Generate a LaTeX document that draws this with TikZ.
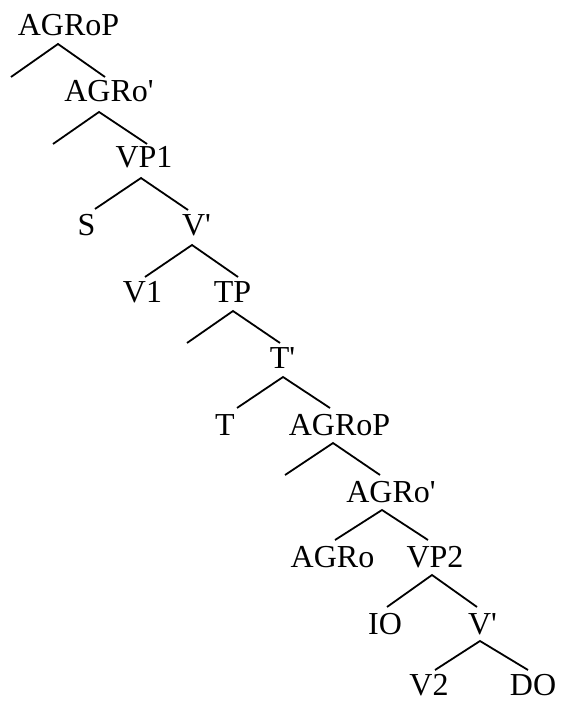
\documentclass[tikz,border=0pt]{standalone}
\usepackage{fontspec}
\setmainfont{Liberation Serif}
\newcommand{\pr}{\textquotesingle}
\begin{document}
\begin{tikzpicture}[x=1pt,y=-1pt,
  lab/.style={anchor=base,inner sep=0pt,font=\fontsize{32}{38}\selectfont},
  br/.style={line width=1.8pt,line join=miter}]
\useasboundingbox (0,0) rectangle (560,703);
% labels
\node[lab] (agrop) at (68.5,36) {AGRoP};
\node[lab] (agrob) at (109,102) {AGRo\pr};
\node[lab] (vpa) at (144,168) {VP1};
\node[lab] (s) at (86.5,235) {S};
\node[lab] (vba) at (196.5,235) {V\pr};
\node[lab] (va) at (142.5,302) {V1};
\node[lab] (tp) at (232.5,302) {TP};
\node[lab] (tb) at (282.5,368) {T\pr};
\node[lab] (t) at (225,435) {T};
\node[lab] (agropb) at (339.5,435) {AGRoP};
\node[lab] (agrobb) at (391,502) {AGRo\pr};
\node[lab] (agro) at (332.5,567) {AGRo};
\node[lab] (vpb) at (435,567) {VP2};
\node[lab] (io) at (385,634) {IO};
\node[lab] (vbb) at (482.5,634) {V\pr};
\node[lab] (vb) at (429,695) {V2};
\node[lab] (do) at (533,695) {DO};
% branch points
\coordinate (a1) at (58,44);  \coordinate (l1) at (11,77);  \coordinate (r1) at (105,77);
\coordinate (a2) at (99,112); \coordinate (l2) at (53,144); \coordinate (r2) at (147,144);
\coordinate (a3) at (141,178);\coordinate (l3) at (95,209); \coordinate (r3) at (188,210);
\coordinate (a4) at (192,245);\coordinate (l4) at (145,277);\coordinate (r4) at (238,277);
\coordinate (a5) at (233,311);\coordinate (l5) at (187,343);\coordinate (r5) at (280,343);
\coordinate (a6) at (283,377);\coordinate (l6) at (237,408);\coordinate (r6) at (330,408);
\coordinate (a7) at (333,443);\coordinate (l7) at (285,475);\coordinate (r7) at (380,475);
\coordinate (a8) at (382,510);\coordinate (l8) at (335,540);\coordinate (r8) at (428,540);
\coordinate (a9) at (432,575);\coordinate (l9) at (387,607);\coordinate (r9) at (477,607);
\coordinate (a10) at (480,641);\coordinate (l10) at (435,670);\coordinate (r10) at (528,670);
\foreach \i in {1,...,10}{\draw[br] (l\i) -- (a\i) -- (r\i);}
\end{tikzpicture}
\end{document}
